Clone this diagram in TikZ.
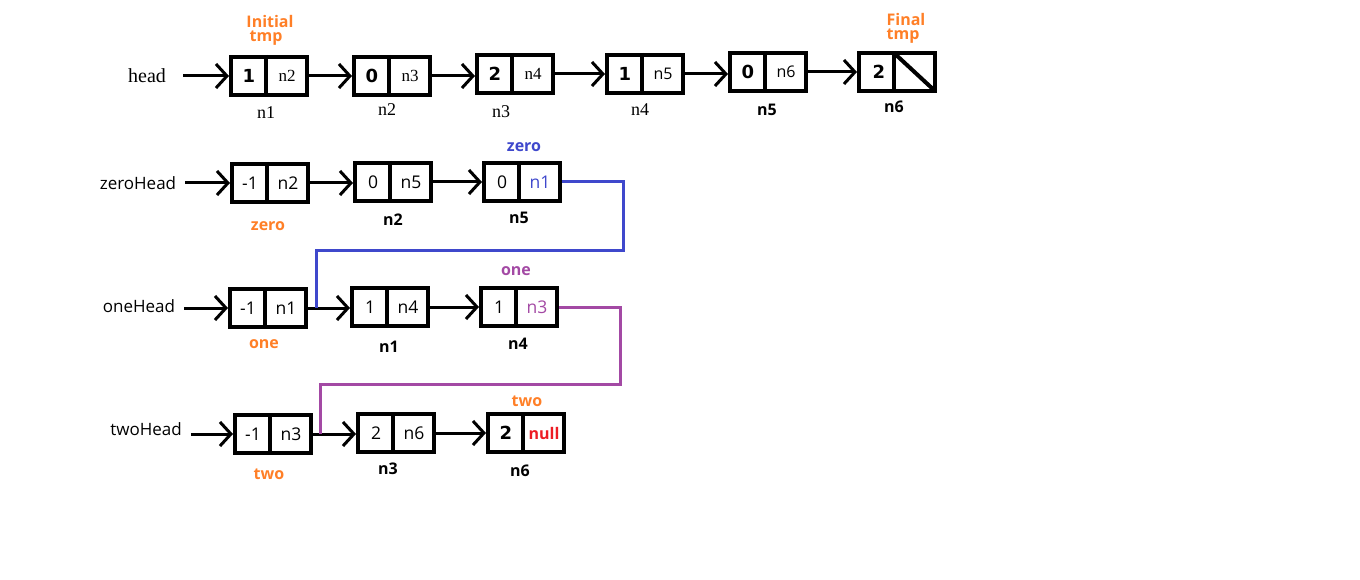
\documentclass[tikz,border=0pt]{standalone}
\usepackage{fontspec}
\setmainfont{Liberation Serif}
\newfontfamily\ui{Open Sans}
\newfontfamily\vb{DejaVu Sans}
\usetikzlibrary{arrows.meta,calc}
\definecolor{tmporange}{RGB}{255,127,39}
\definecolor{zeroblue}{RGB}{63,72,204}
\definecolor{onepurple}{RGB}{163,73,164}
\definecolor{nullred}{RGB}{237,28,36}

% font shorthands for cell contents
\newcommand\bnum{\vb\bfseries\fontsize{18}{20}\selectfont}
\newcommand\uit{\ui\fontsize{17.5}{19}\selectfont}
\newcommand\srf{\fontsize{17}{19}\selectfont}
\newcommand\uis{\ui\fontsize{16}{18}\selectfont}

\tikzset{
  cell/.style={draw, line width=4pt, minimum width=76pt, minimum height=38pt, inner sep=0pt},
  link/.style={line width=3pt, -{Straight Barb[length=11pt,width=24pt]}},
  wire/.style={line width=3pt},
  serif/.style={font=\fontsize{18}{20}\selectfont, inner sep=0pt},
  sans/.style={font=\ui\fontsize{17}{19}\selectfont, inner sep=0pt},
  sansb/.style={font=\ui\bfseries\fontsize{16}{17}\selectfont, inner sep=0pt},
  bignum/.style={font=\vb\bfseries\fontsize{18}{20}\selectfont, inner sep=0pt},
  tag/.style={font=\ui\bfseries\fontsize{16}{16}\selectfont, inner sep=0pt},
}

% one list node: name, centre, value text, pointer text
\newcommand\listcell[4]{%
  \node[cell] (#1) at (#2) {};
  \draw[line width=4pt] ([xshift=-3pt]#1.north) -- ([xshift=-3pt]#1.south);
  \node[inner sep=0pt] (#1v) at ($(#1.center)+(-20,0)$) {#3};
  \node[inner sep=0pt] (#1p) at ($(#1.center)+(18,0)$) {#4};
}

\begin{document}
\begin{tikzpicture}[x=1pt,y=-1pt]
\useasboundingbox (0,0) rectangle (1360,580);

% ---------- original list ----------
\node[serif, font=\fontsize{20}{22}\selectfont] (hd) at (147,76) {head};
\listcell{a1}{269,76}{\bnum 1}{\srf n2}
\listcell{a2}{392,76}{\bnum 0}{\srf n3}
\listcell{a3}{515,74}{\bnum 2}{\srf n4}
\listcell{a4}{645,74}{\bnum 1}{\uis n5}
\listcell{a5}{768,72}{\bnum 0}{\uis n6}
\node[cell] (a6) at (897,72) {};
\draw[line width=4pt] ([xshift=-3pt]a6.north) -- ([xshift=-3pt]a6.south);
\draw[line width=4pt] ($([xshift=-3pt]a6.north)+(0,2)$) -- ($(a6.south east)+(-2,-2)$);
\node[bignum] (a6v) at ($(a6.center)+(-18,0)$) {2};

\draw[link, shorten <=17pt] (a1.west -| hd.east) -- (a1.west);
\draw[link] (a1.east) -- (a1.east -| a2.west);
\draw[link] (a2.east) -- (a2.east -| a3.west);
\draw[link] (a3.east) -- (a3.east -| a4.west);
\draw[link] (a4.east) -- (a4.east -| a5.west);
\draw[link] (a5.east) -- (a5.east -| a6.west);

\node[serif] (a1l) at (266,113) {n1};
\node[serif] (a2l) at (387,110) {n2};
\node[serif] (a3l) at (501,112) {n3};
\node[serif] (a4l) at (640,110) {n4};
\node[sansb] (a5l) at (767,110) {n5};
\node[sansb] (a6l) at (894,107) {n6};

\node[tag, text=tmporange] (itmp1) at (270,22) {Initial};
\node[tag, text=tmporange] (itmp2) at (266,38) {tmp};
\node[tag, text=tmporange] (ftmp1) at (906,20) {Final};
\node[tag, text=tmporange] (ftmp2) at (903,36) {tmp};

% ---------- zero list ----------
\node[sans] (zh) at (138,183) {zeroHead};
\listcell{z0}{270,183}{\uit -1}{\uit n2}
\listcell{z1}{393,182}{\uit 0}{\uit n5}
\listcell{z2}{522,182}{\uit 0}{\uit\color{zeroblue} n1}
\draw[link, shorten <=9pt] (z0.west -| zh.east) -- (z0.west);
\draw[link] (z0.east) -- (z0.east -| z1.west);
\draw[link] (z1.east) -- (z1.east -| z2.west);
\node[tag, text=tmporange] (z0t) at (268,226) {zero};
\node[sansb] (z1l) at (393,220) {n2};
\node[sansb] (z2l) at (519,218) {n5};
\node[tag, text=zeroblue] (z2t) at (524,147) {zero};

% ---------- one list ----------
\node[sans] (oh) at (139,306) {oneHead};
\listcell{o0}{268,308}{\uit -1}{\uit n1}
\listcell{o1}{390,307}{\uit 1}{\uit n4}
\listcell{o2}{519,307}{\uit 1}{\uit\color{onepurple} n3}
\draw[link, shorten <=9pt] (o0.west -| oh.east) -- (o0.west);
\draw[link] (o0.east) -- (o0.east -| o1.west);
\draw[link] (o1.east) -- (o1.east -| o2.west);
\node[tag, text=tmporange] (o0t) at (264,344) {one};
\node[sansb] (o1l) at (389,347) {n1};
\node[sansb] (o2l) at (518,344) {n4};
\node[tag, text=onepurple] (o2t) at (516,271) {one};

% ---------- two list ----------
\node[sans] (th) at (146,429) {twoHead};
\listcell{t0}{273,434}{\uit -1}{\uit n3}
\listcell{t1}{396,433}{\uit 2}{\uit n6}
\listcell{t2}{526,433}{\bnum 2}{\ui\bfseries\fontsize{16}{18}\selectfont\color{nullred} null}
\draw[link, shorten <=9pt] (t0.west -| th.east) -- (t0.west);
\draw[link] (t0.east) -- (t0.east -| t1.west);
\draw[link] (t1.east) -- (t1.east -| t2.west);
\node[tag, text=tmporange] (t0t) at (269,474) {two};
\node[sansb] (t1l) at (388,469) {n3};
\node[sansb] (t2l) at (520,471) {n6};
\node[tag, text=tmporange] (t2t) at (527,401) {two};

% ---------- links joining the lists ----------
\coordinate (oj) at ($(o0.east)+(8,0)$);
\coordinate (tj) at ($(t0.east)+(7,0)$);
\draw[wire, zeroblue] (z2.east) -- ++(61,0) -- ++(0,68) -| (oj);
\draw[wire, onepurple] (o2.east) -- ++(61,0) -- ++(0,77) -| (tj);
\end{tikzpicture}
\end{document}
